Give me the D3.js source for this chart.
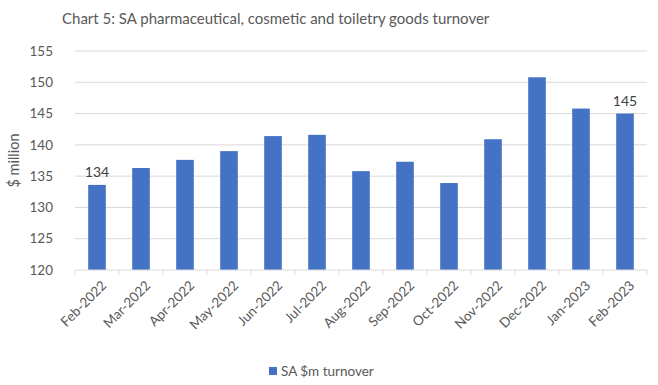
<!DOCTYPE html>
<html>
<head>
<meta charset="utf-8">
<script src="https://cdn.jsdelivr.net/npm/d3@7"></script>
<style>
  body { margin: 0; background: #fff; }
  text { font-family: Lato, "Open Sans", sans-serif; fill: #595959; }
</style>
</head>
<body>
<svg width="658" height="385"></svg>
<script>
const months = ["Feb-2022", "Mar-2022", "Apr-2022", "May-2022", "Jun-2022", "Jul-2022", "Aug-2022",
    "Sep-2022", "Oct-2022", "Nov-2022", "Dec-2022", "Jan-2023", "Feb-2023"]
const turnover = [133.6, 136.3, 137.6, 139.0, 141.4, 141.6, 135.8, 137.3, 133.9, 140.9, 150.8, 145.8, 145.0]
const yTicks = [120, 125, 130, 135, 140, 145, 150, 155]
const labelled = ["Feb-2022", "Feb-2023"]

const data = months.map((m, i) => ({ month: m, value: turnover[i] }))

const svg = d3.select("svg")
const margin = { left: 75, right: 11, top: 51, bottom: 115 }
const width = 658 - margin.left - margin.right
const height = 385 - margin.top - margin.bottom

const x = d3.scaleBand()
    .domain(months)
    .range([0, width])
    .paddingInner(0.6)
    .paddingOuter(0.3)

const y = d3.scaleLinear()
    .domain([120, 155])
    .range([height, 0])

const g = svg.append("g")
    .attr("transform", `translate(${margin.left}, ${margin.top})`)

// gridlines
g.selectAll("line.grid")
    .data(yTicks.slice(1))
    .enter()
    .append("line")
    .attr("class", "grid")
    .attr("x1", 0)
    .attr("x2", width)
    .attr("y1", d => y(d))
    .attr("y2", d => y(d))
    .style("stroke", "#d9d9d9")

// y axis labels
g.selectAll("text.ytick")
    .data(yTicks)
    .enter()
    .append("text")
    .attr("class", "ytick")
    .attr("x", -22)
    .attr("y", d => y(d))
    .attr("dy", "0.35em")
    .attr("text-anchor", "end")
    .style("font-size", "13.5px")
    .text(d => d)

g.append("text")
    .attr("transform", `translate(-56, ${height / 2}) rotate(-90)`)
    .attr("text-anchor", "middle")
    .style("font-size", "14.5px")
    .text("$ million")

// bars
g.selectAll("rect.bar")
    .data(data)
    .enter()
    .append("rect")
    .attr("class", "bar")
    .attr("x", d => x(d.month))
    .attr("width", x.bandwidth())
    .attr("y", d => y(d.value))
    .attr("height", d => height - y(d.value))
    .style("fill", "#4472c4")

// x axis, ticks between categories
const step = x.step()
const xAxis = g.append("g")
    .attr("transform", `translate(0, ${height})`)

xAxis.append("line")
    .attr("x1", 0)
    .attr("x2", width)
    .style("stroke", "#d9d9d9")

xAxis.selectAll("line.tick")
    .data(d3.range(months.length + 1))
    .enter()
    .append("line")
    .attr("class", "tick")
    .attr("x1", i => i * step)
    .attr("x2", i => i * step)
    .attr("y1", 0)
    .attr("y2", 5)
    .style("stroke", "#d9d9d9")

xAxis.selectAll("text.xtick")
    .data(months)
    .enter()
    .append("text")
    .attr("class", "xtick")
    .attr("transform", d => `translate(${x(d) + x.bandwidth() / 2 + 7}, 13) rotate(-45)`)
    .attr("text-anchor", "end")
    .attr("dy", "0.35em")
    .style("font-size", "13.5px")
    .text(d => d)

// data labels
g.selectAll("text.value")
    .data(data.filter(d => labelled.includes(d.month)))
    .enter()
    .append("text")
    .attr("class", "value")
    .attr("x", d => x(d.month) + x.bandwidth() / 2)
    .attr("y", d => y(d.value) - 8)
    .attr("text-anchor", "middle")
    .style("font-size", "14px")
    .style("fill", "#404040")
    .text(d => Math.round(d.value))

// title
svg.append("text")
    .attr("x", 62)
    .attr("y", 24)
    .style("font-size", "15px")
    .text("Chart 5: SA pharmaceutical, cosmetic and toiletry goods turnover")

// legend
const legend = svg.append("g")
    .attr("transform", "translate(269, 376)")
legend.append("rect")
    .attr("x", 0)
    .attr("y", -9)
    .attr("width", 8)
    .attr("height", 8)
    .style("fill", "#4472c4")
legend.append("text")
    .attr("x", 12)
    .attr("y", 0)
    .style("font-size", "13.5px")
    .text("SA $m turnover")
</script>
</body>
</html>
